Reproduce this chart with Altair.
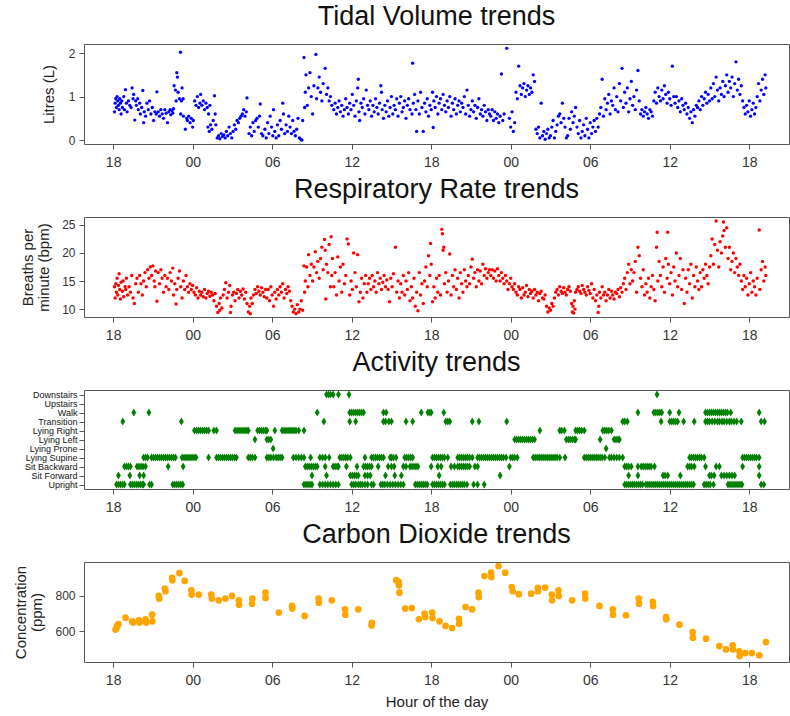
import altair as alt
import pandas as pd

# ---------------- data (hours counted from midnight of day 1) ----------------
HOUR_TICKS = [18, 24, 30, 36, 42, 48, 54, 60, 66]
X_DOMAIN = [15.8, 69.0]

tidal_volume = [
    (18.10, 0.65), (18.15, 0.85), (18.20, 0.95), (18.25, 0.75), (18.30, 1.00), (18.35, 0.90), (18.40, 0.80),
    (18.45, 0.70), (18.50, 0.95), (18.55, 0.85), (18.60, 0.60), (18.65, 0.90), (18.70, 0.75), (18.80, 1.00),
    (18.85, 0.70), (18.93, 1.16), (19.00, 0.85), (19.05, 0.65), (19.15, 0.90), (19.25, 0.80), (19.35, 0.75),
    (19.43, 1.20), (19.50, 0.95), (19.55, 1.05), (19.63, 0.46), (19.70, 0.90), (19.75, 0.80), (19.85, 0.95),
    (19.90, 0.70), (20.00, 0.85), (20.05, 0.60), (20.15, 0.75), (20.24, 1.14), (20.30, 0.40), (20.35, 0.65),
    (20.45, 0.55), (20.55, 0.85), (20.65, 0.70), (20.75, 0.90), (20.85, 0.60), (20.95, 0.75), (21.05, 0.45),
    (21.15, 0.65), (21.30, 1.11), (21.25, 0.60), (21.40, 0.65), (21.50, 0.55), (21.60, 0.70), (21.70, 0.60),
    (21.80, 0.50), (21.90, 0.70), (22.00, 0.62), (22.10, 0.40), (22.20, 0.65), (22.30, 0.70), (22.35, 0.58),
    (22.45, 0.68), (22.50, 0.62), (22.55, 0.72), (22.60, 1.25), (22.70, 1.15), (22.75, 0.90), (22.80, 1.55),
    (22.85, 1.45), (22.90, 1.10), (23.00, 0.95), (23.08, 2.02), (23.10, 0.60), (23.15, 0.90), (23.20, 1.20),
    (23.28, 0.95), (23.30, 0.55), (23.45, 0.25), (23.55, 0.50), (23.60, 0.45), (23.70, 0.55), (23.80, 0.40),
    (23.90, 0.50), (24.00, 0.30), (24.05, 0.45), (24.15, 0.90), (24.25, 0.80), (24.35, 1.00), (24.45, 0.75),
    (24.55, 0.85), (24.60, 1.05), (24.70, 0.80), (24.80, 0.90), (24.90, 0.70), (25.00, 0.85), (25.10, 0.75),
    (25.20, 0.60), (25.30, 0.80), (25.15, 0.30), (25.25, 0.20), (25.35, 0.35), (25.45, 0.25), (25.55, 0.45),
    (25.65, 1.02), (25.70, 0.60), (25.75, 0.35), (25.85, 0.05), (25.95, 0.10), (26.05, 0.03), (26.15, 0.15),
    (26.25, 0.08), (26.35, 0.12), (26.45, 0.05), (26.55, 0.20), (26.65, 0.10), (26.75, 0.30), (26.85, 0.15),
    (26.95, 0.05), (27.05, 0.20), (27.15, 0.35), (27.25, 0.25), (27.35, 0.45), (27.45, 0.40), (27.55, 0.50),
    (27.65, 0.55), (27.75, 0.60), (27.85, 0.70), (27.95, 0.55), (28.05, 0.65), (28.10, 0.97), (28.25, 0.15),
    (28.35, 0.30), (28.45, 0.10), (28.55, 0.40), (28.65, 0.20), (28.75, 0.45), (28.85, 0.50), (28.95, 0.30),
    (29.05, 0.55), (29.10, 0.83), (29.20, 0.15), (29.30, 0.10), (29.45, 0.25), (29.55, 0.05), (29.65, 0.40),
    (29.75, 0.15), (29.85, 0.55), (29.95, 0.30), (30.05, 0.10), (30.10, 0.70), (30.20, 0.20), (30.30, 0.05),
    (30.40, 0.35), (30.50, 0.10), (30.60, 0.45), (30.70, 0.25), (30.80, 0.85), (30.85, 0.60), (30.95, 0.15),
    (31.05, 0.35), (31.15, 0.20), (31.25, 0.55), (31.35, 0.30), (31.45, 0.15), (31.55, 0.45), (31.65, 0.20),
    (31.75, 0.10), (31.85, 0.25), (31.95, 0.50), (32.05, 0.05), (32.15, 0.02), (32.25, 0.00), (32.30, 0.45),
    (32.40, 1.90), (32.45, 0.75), (32.50, 1.10), (32.55, 1.50), (32.65, 0.80), (32.75, 1.20), (32.85, 1.55),
    (32.95, 1.00), (33.05, 0.60), (33.15, 1.25), (33.30, 1.97), (33.35, 0.95), (33.45, 1.20), (33.55, 1.45),
    (33.65, 1.10), (33.75, 0.90), (33.85, 1.30), (34.00, 1.65), (34.10, 1.05), (34.20, 1.20), (34.30, 0.90),
    (34.40, 1.00), (34.50, 0.80), (34.65, 0.70), (34.75, 0.85), (34.85, 0.60), (34.95, 0.75), (35.05, 0.90),
    (35.15, 0.65), (35.25, 0.80), (35.35, 0.55), (35.45, 0.70), (35.55, 0.95), (35.65, 0.75), (35.75, 0.60),
    (35.85, 0.85), (35.95, 0.70), (36.05, 1.05), (36.15, 0.80), (36.25, 0.55), (36.35, 0.90), (36.45, 1.20),
    (36.50, 1.40), (36.55, 0.65), (36.60, 0.45), (36.70, 0.85), (36.80, 0.75), (36.90, 0.95), (37.00, 0.60),
    (37.10, 1.15), (37.20, 0.80), (37.30, 0.70), (37.40, 0.90), (37.50, 0.55), (37.60, 0.80), (37.70, 0.65),
    (37.80, 0.95), (37.90, 0.75), (38.00, 0.60), (38.10, 0.85), (38.20, 1.25), (38.25, 1.10), (38.30, 0.70),
    (38.40, 0.50), (38.50, 0.80), (38.60, 0.65), (38.70, 0.90), (38.80, 0.55), (38.90, 0.75), (39.00, 1.00),
    (39.10, 0.60), (39.20, 0.80), (39.30, 0.70), (39.40, 0.95), (39.50, 0.55), (39.60, 0.85), (39.70, 1.00),
    (39.80, 0.65), (39.90, 0.75), (40.00, 0.90), (40.10, 0.50), (40.20, 0.80), (40.30, 0.95), (40.40, 0.70),
    (40.60, 1.77), (40.55, 0.60), (40.65, 0.85), (40.75, 1.05), (40.85, 0.70), (40.90, 0.20), (41.00, 0.90),
    (41.10, 0.60), (41.20, 1.10), (41.30, 0.75), (41.40, 0.20), (41.50, 0.85), (41.60, 0.65), (41.70, 0.95),
    (41.80, 0.55), (41.90, 0.80), (42.00, 0.70), (42.10, 1.10), (42.15, 0.29), (42.20, 0.90), (42.30, 0.75),
    (42.40, 1.00), (42.50, 0.60), (42.60, 0.85), (42.70, 0.95), (42.80, 0.70), (42.90, 1.05), (43.00, 0.80),
    (43.10, 0.65), (43.20, 0.90), (43.30, 0.75), (43.40, 1.00), (43.50, 0.55), (43.60, 0.85), (43.70, 0.70),
    (43.80, 0.95), (43.90, 0.60), (44.00, 0.80), (44.10, 0.90), (44.20, 0.65), (44.30, 0.85), (44.40, 0.75),
    (44.50, 1.00), (44.60, 0.60), (44.70, 1.15), (44.80, 0.80), (44.90, 0.55), (45.00, 0.70), (45.10, 0.90),
    (45.20, 0.65), (45.30, 0.80), (45.40, 0.50), (45.50, 0.75), (45.60, 0.95), (45.70, 0.60), (45.80, 0.70),
    (45.90, 0.55), (46.00, 0.80), (46.10, 0.65), (46.20, 0.45), (46.30, 0.70), (46.40, 0.60), (46.50, 0.55),
    (46.60, 0.70), (46.70, 0.45), (46.80, 0.65), (46.90, 0.50), (47.00, 0.60), (47.10, 0.40), (47.20, 0.55),
    (47.30, 1.52), (47.40, 0.45), (47.50, 0.60), (47.70, 2.11), (47.90, 0.50), (48.00, 0.30), (48.10, 0.65),
    (48.20, 0.20), (48.30, 0.40), (48.40, 1.10), (48.50, 0.95), (48.60, 1.70), (48.70, 1.25), (48.80, 1.05),
    (48.90, 1.20), (49.00, 1.30), (49.10, 1.00), (49.20, 1.15), (49.30, 1.25), (49.40, 1.05), (49.50, 1.20),
    (49.60, 1.10), (49.70, 1.50), (49.80, 1.35), (49.90, 0.25), (50.00, 0.15), (50.10, 0.30), (50.20, 0.05),
    (50.30, 0.85), (50.40, 0.10), (50.50, 0.20), (50.60, 0.02), (50.70, 0.15), (50.80, 0.25), (50.90, 0.05),
    (51.00, 0.10), (51.10, 0.30), (51.20, 0.45), (51.30, 0.05), (51.40, 0.20), (51.50, 0.35), (51.60, 0.55),
    (51.70, 0.60), (51.80, 0.40), (51.90, 0.85), (52.00, 0.50), (52.10, 0.30), (52.20, 0.05), (52.30, 0.10),
    (52.40, 0.50), (52.50, 0.25), (52.60, 0.65), (52.70, 0.40), (52.80, 0.55), (52.90, 0.75), (53.00, 0.30),
    (53.10, 0.15), (53.20, 0.45), (53.30, 0.05), (53.40, 0.20), (53.50, 0.35), (53.60, 0.10), (53.70, 0.50),
    (53.80, 0.25), (53.90, 0.05), (54.00, 0.40), (54.10, 0.15), (54.20, 0.30), (54.30, 0.45), (54.40, 0.20),
    (54.50, 0.50), (54.60, 0.30), (54.70, 0.60), (54.80, 0.75), (54.90, 1.40), (55.00, 0.55), (55.10, 0.95),
    (55.20, 0.70), (55.30, 0.85), (55.40, 1.05), (55.50, 0.60), (55.60, 0.90), (55.70, 0.80), (55.80, 1.20),
    (55.90, 0.70), (56.00, 1.00), (56.10, 0.65), (56.20, 1.30), (56.30, 0.90), (56.40, 1.65), (56.50, 0.75),
    (56.60, 1.10), (56.70, 0.85), (56.80, 1.20), (56.90, 0.65), (57.00, 0.95), (57.10, 1.35), (57.20, 0.80),
    (57.30, 1.00), (57.40, 0.70), (57.50, 1.15), (57.60, 1.60), (57.70, 0.90), (57.80, 0.60), (57.90, 0.70),
    (58.00, 0.55), (58.10, 0.65), (58.20, 0.75), (58.30, 0.60), (58.40, 0.50), (58.50, 0.70), (58.60, 0.65),
    (58.70, 0.55), (58.80, 0.90), (58.90, 1.10), (59.00, 0.85), (59.10, 1.20), (59.20, 1.00), (59.30, 0.90),
    (59.40, 1.15), (59.50, 0.95), (59.60, 1.25), (59.70, 1.05), (59.80, 0.85), (59.90, 1.10), (60.00, 0.95),
    (60.10, 0.80), (60.20, 1.70), (60.30, 1.00), (60.40, 0.85), (60.50, 1.00), (60.60, 0.75), (60.70, 0.90),
    (60.80, 0.65), (60.90, 0.95), (61.00, 0.80), (61.10, 0.70), (61.20, 0.85), (61.30, 0.60), (61.40, 0.75),
    (61.50, 0.50), (61.60, 0.65), (61.70, 0.40), (61.80, 0.70), (61.90, 0.55), (62.00, 0.80), (62.10, 0.75),
    (62.20, 0.90), (62.30, 0.70), (62.40, 1.00), (62.50, 0.80), (62.60, 0.95), (62.70, 1.10), (62.80, 0.85),
    (62.90, 1.05), (63.00, 0.90), (63.10, 1.20), (63.20, 0.95), (63.30, 1.30), (63.40, 1.00), (63.50, 1.45),
    (63.60, 1.15), (63.70, 0.90), (63.80, 1.20), (63.90, 1.05), (64.00, 1.35), (64.10, 1.00), (64.20, 1.25),
    (64.30, 1.50), (64.40, 1.10), (64.50, 1.35), (64.60, 1.20), (64.70, 1.45), (64.80, 1.00), (64.90, 1.30),
    (65.00, 1.80), (65.10, 1.15), (65.20, 1.40), (65.30, 1.05), (65.40, 1.25), (65.50, 0.90), (65.60, 0.75),
    (65.70, 0.60), (65.80, 0.80), (65.90, 0.65), (66.00, 0.90), (66.10, 0.55), (66.20, 0.70), (66.30, 0.85),
    (66.40, 0.60), (66.50, 0.75), (66.60, 1.00), (66.70, 1.30), (66.80, 0.90), (66.90, 1.15), (67.00, 1.40),
    (67.10, 1.05), (67.20, 1.50), (67.25, 1.20),
]

respiratory_rate = [
    (18.10, 14.0), (18.15, 12.0), (18.20, 14.5), (18.25, 13.0), (18.30, 15.5), (18.35, 12.5), (18.40, 14.2),
    (18.45, 16.3), (18.50, 13.5), (18.55, 11.8), (18.60, 14.8), (18.70, 13.2), (18.75, 15.0), (18.80, 12.2),
    (18.90, 14.0), (18.95, 13.5), (19.00, 15.5), (19.10, 12.5), (19.20, 14.0), (19.30, 13.0), (19.40, 16.0),
    (19.50, 12.0), (19.60, 11.0), (19.70, 14.5), (19.80, 15.5), (19.90, 13.0), (20.00, 16.0), (20.10, 14.5),
    (20.20, 12.5), (20.30, 15.0), (20.40, 16.5), (20.50, 14.0), (20.60, 17.0), (20.70, 15.5), (20.80, 17.5),
    (20.90, 16.0), (21.00, 17.7), (21.10, 15.0), (21.15, 14.0), (21.20, 16.8), (21.30, 11.4), (21.40, 16.5),
    (21.50, 14.5), (21.60, 17.0), (21.70, 15.5), (21.80, 13.0), (21.90, 16.0), (22.00, 14.0), (22.10, 15.5),
    (22.20, 13.5), (22.30, 16.5), (22.40, 15.0), (22.50, 17.3), (22.55, 12.5), (22.65, 14.5), (22.75, 10.9),
    (22.80, 13.5), (22.90, 15.5), (23.00, 16.8), (23.10, 14.0), (23.20, 12.0), (23.30, 15.0), (23.40, 13.5),
    (23.50, 16.0), (23.60, 14.0), (23.70, 13.0), (23.80, 14.5), (23.90, 13.5), (24.00, 14.2), (24.10, 13.0),
    (24.20, 12.5), (24.30, 13.8), (24.40, 12.0), (24.50, 13.2), (24.60, 12.5), (24.70, 13.0), (24.80, 12.2),
    (24.90, 13.5), (25.00, 12.0), (25.10, 12.8), (25.20, 13.2), (25.30, 12.3), (25.40, 13.0), (25.50, 12.5),
    (25.60, 11.5), (25.70, 12.8), (25.80, 10.5), (25.90, 9.4), (26.00, 11.0), (26.05, 9.8), (26.10, 12.0),
    (26.20, 10.2), (26.30, 12.5), (26.40, 13.5), (26.50, 14.7), (26.60, 12.0), (26.70, 13.0), (26.80, 14.2),
    (26.85, 9.4), (26.90, 10.5), (27.00, 12.5), (27.10, 13.0), (27.20, 11.5), (27.30, 12.8), (27.40, 13.5),
    (27.50, 12.0), (27.60, 13.2), (27.70, 12.5), (27.80, 13.6), (27.90, 11.8), (28.00, 13.0), (28.10, 11.0),
    (28.20, 9.5), (28.30, 10.5), (28.35, 9.2), (28.40, 12.0), (28.50, 11.0), (28.60, 12.5), (28.70, 13.5),
    (28.80, 12.8), (28.90, 14.0), (29.00, 13.2), (29.10, 12.5), (29.20, 13.8), (29.30, 13.0), (29.40, 12.2),
    (29.50, 13.5), (29.60, 12.0), (29.70, 13.5), (29.80, 11.5), (29.90, 14.0), (30.00, 12.5), (30.10, 10.5),
    (30.20, 13.0), (30.30, 11.8), (30.40, 13.5), (30.50, 12.5), (30.60, 14.0), (30.70, 13.0), (30.80, 14.5),
    (30.90, 12.0), (31.00, 13.5), (31.10, 12.8), (31.20, 14.0), (31.30, 13.2), (31.40, 11.5), (31.50, 10.5),
    (31.60, 9.5), (31.70, 10.0), (31.80, 9.2), (31.90, 10.8), (32.00, 9.5), (32.10, 10.0), (32.20, 11.5),
    (32.30, 9.8), (32.40, 17.7), (32.45, 13.0), (32.50, 15.0), (32.60, 17.5), (32.70, 14.0), (32.75, 19.7),
    (32.85, 16.0), (32.95, 18.0), (33.05, 15.0), (33.15, 17.5), (33.25, 20.2), (33.35, 16.5), (33.45, 18.5),
    (33.55, 15.5), (33.65, 19.0), (33.75, 21.0), (33.85, 17.0), (33.95, 22.4), (34.00, 20.5), (34.05, 11.8),
    (34.10, 18.0), (34.20, 16.5), (34.30, 21.5), (34.40, 14.0), (34.45, 22.9), (34.50, 16.0), (34.55, 19.0),
    (34.65, 14.0), (34.75, 16.5), (34.85, 12.5), (34.95, 19.3), (35.05, 15.0), (35.15, 17.5), (35.25, 13.0),
    (35.35, 18.0), (35.45, 14.5), (35.55, 16.0), (35.65, 22.5), (35.75, 21.6), (35.85, 12.5), (35.95, 15.0),
    (36.05, 13.5), (36.15, 20.0), (36.25, 16.5), (36.35, 14.0), (36.45, 19.7), (36.55, 11.3), (36.65, 13.0),
    (36.75, 15.5), (36.85, 12.0), (36.95, 14.5), (37.05, 16.0), (37.15, 13.0), (37.25, 14.5), (37.35, 15.5),
    (37.45, 13.5), (37.55, 16.0), (37.65, 14.0), (37.75, 15.0), (37.85, 13.0), (37.95, 16.5), (38.05, 14.5),
    (38.15, 15.5), (38.25, 13.5), (38.35, 14.8), (38.45, 16.0), (38.55, 14.0), (38.65, 15.2), (38.75, 13.5),
    (38.85, 11.3), (38.95, 15.5), (39.05, 14.0), (39.15, 16.3), (39.30, 21.0), (39.40, 13.0), (39.50, 15.0),
    (39.60, 12.0), (39.70, 14.5), (39.80, 13.0), (39.90, 16.0), (40.00, 12.5), (40.10, 15.0), (40.20, 13.5),
    (40.30, 16.5), (40.40, 11.5), (40.50, 14.0), (40.60, 12.0), (40.70, 15.5), (40.80, 10.5), (40.90, 13.0),
    (41.00, 9.7), (41.10, 16.5), (41.20, 12.5), (41.30, 14.5), (41.40, 11.0), (41.50, 15.0), (41.60, 17.5),
    (41.70, 14.0), (41.80, 19.5), (41.90, 16.0), (41.95, 21.7), (42.00, 18.0), (42.10, 11.3), (42.20, 14.0),
    (42.30, 12.0), (42.40, 15.5), (42.50, 13.0), (42.60, 16.0), (42.70, 12.5), (42.80, 24.2), (42.85, 23.4),
    (42.90, 20.5), (42.95, 21.0), (43.00, 14.5), (43.10, 16.5), (43.20, 13.0), (43.30, 15.0), (43.40, 19.8),
    (43.50, 12.5), (43.60, 16.0), (43.70, 14.0), (43.80, 17.0), (43.90, 13.5), (44.00, 15.5), (44.10, 12.0),
    (44.20, 16.5), (44.30, 14.5), (44.40, 13.0), (44.50, 17.0), (44.60, 15.0), (44.70, 14.0), (44.80, 16.0),
    (44.90, 14.5), (45.00, 17.5), (45.10, 18.9), (45.20, 15.5), (45.30, 16.5), (45.40, 14.0), (45.50, 17.0),
    (45.60, 15.0), (45.70, 16.8), (45.80, 14.5), (45.90, 18.0), (46.00, 16.0), (46.10, 17.2), (46.20, 15.5),
    (46.30, 16.5), (46.40, 17.0), (46.50, 16.0), (46.60, 17.0), (46.70, 15.5), (46.80, 16.8), (46.90, 15.0),
    (47.00, 17.2), (47.10, 16.0), (47.20, 15.0), (47.30, 16.5), (47.40, 15.5), (47.50, 14.5), (47.60, 16.0),
    (47.70, 15.0), (47.80, 13.5), (47.90, 14.5), (48.00, 15.5), (48.10, 14.0), (48.20, 13.5), (48.30, 14.5),
    (48.40, 13.0), (48.50, 12.5), (48.60, 14.0), (48.70, 13.5), (48.80, 12.0), (48.90, 13.8), (49.00, 12.5),
    (49.10, 13.0), (49.20, 14.2), (49.30, 12.2), (49.40, 13.5), (49.50, 12.8), (49.60, 13.2), (49.70, 12.0),
    (49.80, 13.5), (49.90, 12.5), (50.00, 13.0), (50.10, 11.5), (50.20, 12.8), (50.30, 13.2), (50.40, 12.0),
    (50.50, 11.8), (50.60, 12.5), (50.70, 10.5), (50.80, 9.5), (50.90, 10.2), (51.00, 9.8), (51.10, 11.0),
    (51.20, 10.5), (51.30, 12.0), (51.40, 13.0), (51.50, 13.5), (51.60, 12.5), (51.70, 14.0), (51.80, 13.2),
    (51.90, 12.8), (52.00, 13.8), (52.10, 13.0), (52.20, 12.5), (52.30, 13.5), (52.40, 14.0), (52.50, 13.2),
    (52.60, 11.0), (52.65, 9.5), (52.70, 10.5), (52.75, 9.3), (52.80, 11.5), (52.85, 10.0), (52.90, 13.0),
    (53.00, 13.5), (53.10, 14.0), (53.20, 13.2), (53.30, 12.8), (53.40, 14.2), (53.50, 13.5), (53.60, 13.0),
    (53.70, 12.5), (53.80, 14.0), (53.90, 13.3), (54.00, 12.8), (54.10, 14.5), (54.20, 12.0), (54.30, 13.5),
    (54.40, 11.5), (54.50, 12.5), (54.60, 9.4), (54.65, 10.5), (54.70, 13.0), (54.80, 12.0), (54.90, 14.0),
    (55.00, 12.5), (55.10, 13.0), (55.20, 11.5), (55.30, 12.5), (55.40, 13.5), (55.50, 12.0), (55.60, 13.2),
    (55.70, 12.5), (55.80, 11.8), (55.90, 13.0), (56.00, 12.8), (56.10, 13.5), (56.20, 12.2), (56.30, 13.8),
    (56.40, 13.0), (56.50, 14.5), (56.60, 15.5), (56.70, 13.5), (56.80, 16.5), (56.90, 18.0), (57.00, 14.5),
    (57.10, 17.0), (57.20, 15.0), (57.30, 16.5), (57.40, 18.5), (57.50, 13.0), (57.60, 21.0), (57.70, 19.5),
    (57.80, 15.5), (57.90, 14.0), (58.00, 17.0), (58.10, 12.5), (58.20, 14.5), (58.30, 13.0), (58.40, 15.5),
    (58.50, 12.0), (58.60, 14.0), (58.70, 16.0), (58.80, 13.5), (58.90, 11.5), (59.00, 21.0), (59.05, 23.7),
    (59.10, 15.0), (59.20, 18.5), (59.30, 16.0), (59.40, 14.0), (59.50, 17.5), (59.60, 13.0), (59.70, 19.0),
    (59.80, 15.5), (59.85, 23.7), (59.90, 18.0), (60.00, 14.5), (60.10, 16.5), (60.20, 12.5), (60.30, 17.5),
    (60.40, 15.0), (60.50, 20.0), (60.60, 14.0), (60.70, 16.0), (60.80, 19.0), (60.90, 13.5), (61.00, 17.0),
    (61.10, 11.0), (61.20, 15.5), (61.30, 13.0), (61.40, 17.0), (61.50, 14.5), (61.60, 18.0), (61.70, 12.0),
    (61.80, 16.0), (61.90, 14.0), (62.00, 17.5), (62.10, 15.0), (62.20, 13.5), (62.30, 16.5), (62.40, 14.0),
    (62.50, 17.0), (62.60, 15.5), (62.70, 18.0), (62.80, 16.0), (62.90, 14.5), (63.00, 17.5), (63.10, 19.5),
    (63.20, 22.5), (63.30, 18.0), (63.40, 21.5), (63.50, 25.7), (63.60, 20.5), (63.70, 17.5), (63.80, 22.0),
    (63.90, 20.0), (64.00, 23.0), (64.05, 25.5), (64.10, 24.0), (64.20, 21.0), (64.30, 24.5), (64.40, 19.0),
    (64.50, 21.0), (64.60, 17.0), (64.70, 18.5), (64.80, 20.0), (64.90, 16.5), (65.00, 19.0), (65.10, 17.5),
    (65.20, 16.0), (65.30, 18.0), (65.40, 15.0), (65.50, 13.5), (65.60, 16.0), (65.70, 14.0), (65.80, 15.5),
    (65.90, 12.5), (66.00, 14.5), (66.10, 16.5), (66.20, 13.0), (66.30, 15.0), (66.40, 14.0), (66.50, 12.5),
    (66.60, 15.5), (66.75, 24.1), (66.80, 13.5), (66.90, 17.0), (67.00, 18.5), (67.10, 15.0), (67.20, 17.5),
    (67.25, 16.0),
]

ACTIVITIES = ["Downstairs", "Upstairs", "Walk", "Transition", "Lying Right", "Lying Left",
              "Lying Prone", "Lying Supine", "Sit Backward", "Sit Forward", "Upright"]

activity_hours = {
    "Downstairs": [34.1, 34.25, 34.4, 34.6, 35.0, 35.8, 59.04],
    "Upstairs": [],
    "Walk": [19.56, 20.7, 33.4, 35.85, 36.0, 36.15, 36.3, 36.45, 36.6, 36.75, 36.9, 38.4, 38.6, 41.25,
             41.75, 41.9, 42.0, 42.95, 57.6, 58.8, 58.95, 59.1, 59.25, 59.4, 60.0, 60.7, 62.7, 62.85, 63.0,
             63.15, 63.3, 63.45, 63.6, 63.75, 63.9, 64.05, 64.2, 64.35, 64.6, 66.75],
    "Transition": [18.73, 23.15, 33.9, 35.85, 36.3, 38.4, 38.55, 38.8, 39.0, 40.1, 40.6, 43.1, 43.25, 43.4,
                   45.1, 45.6, 47.7, 56.45, 56.6, 56.8, 59.35, 60.0, 60.15, 60.3, 60.45, 60.6, 61.05, 61.85,
                   62.7, 62.85, 63.0, 63.2, 63.4, 63.6, 63.75, 63.95, 64.1, 64.3, 64.5, 64.65, 64.85, 65.05,
                   65.4, 66.9, 67.15],
    "Lying Right": [24.13, 24.3, 24.45, 24.6, 24.75, 24.9, 25.05, 25.2, 25.6, 25.8, 27.2, 27.35, 27.5, 27.65,
                    27.8, 27.95, 28.1, 28.2, 28.9, 29.05, 29.2, 29.35, 29.5, 29.6, 30.2, 30.75, 30.9, 31.05,
                    31.2, 31.35, 31.5, 31.65, 31.8, 32.0, 32.4, 50.2, 51.7, 51.85, 52.05, 52.9, 53.05, 53.2,
                    53.35, 53.55, 54.95, 55.1, 55.25, 55.4, 55.6],
    "Lying Left": [28.7, 29.6, 29.75, 29.9, 48.3, 48.45, 48.6, 48.75, 48.9, 49.05, 49.2, 49.35, 49.5, 49.65,
                   49.8, 52.2, 52.35, 52.5, 52.65, 52.8, 52.9, 54.75, 55.8, 55.95, 56.1, 56.2],
    "Lying Prone": [30.07, 55.2],
    "Lying Supine": [20.3, 20.45, 20.6, 20.9, 21.05, 21.2, 21.35, 21.5, 21.65, 21.8, 21.95, 22.1, 22.25, 22.4,
                     22.55, 22.7, 23.2, 23.35, 23.5, 23.65, 23.8, 23.95, 24.1, 24.25, 25.2, 25.8, 25.95, 26.1,
                     26.25, 26.4, 26.55, 26.7, 26.85, 27.0, 27.15, 27.3, 28.2, 28.35, 28.5, 28.7, 29.6, 29.75,
                     29.9, 30.1, 30.3, 30.45, 30.6, 30.75, 31.6, 31.8, 32.0, 32.2, 32.4, 32.9, 33.6, 33.8, 34.0,
                     34.3, 35.1, 35.25, 35.4, 35.55, 35.7, 35.9, 37.0, 37.5, 37.65, 37.8, 37.95, 38.1, 38.25,
                     38.4, 38.9, 39.0, 39.15, 39.35, 40.0, 40.15, 40.3, 40.45, 40.6, 42.1, 42.25, 42.4, 42.55,
                     42.7, 42.85, 43.0, 43.25, 44.0, 44.15, 44.3, 44.45, 44.6, 44.75, 44.9, 45.1, 45.5, 45.65,
                     45.8, 45.95, 46.1, 46.25, 46.4, 46.55, 46.7, 46.85, 47.0, 47.15, 47.3, 47.45, 47.65, 48.0,
                     48.15, 48.3, 48.5, 49.7, 49.85, 50.0, 50.15, 50.3, 50.45, 50.6, 50.75, 50.9, 51.05, 51.2,
                     51.35, 51.5, 51.7, 52.1, 53.55, 53.7, 53.85, 54.0, 54.15, 54.3, 54.45, 54.6, 54.75, 54.9,
                     55.1, 55.45, 55.6, 55.8, 56.0, 56.2, 56.45, 61.5, 61.65, 61.8, 61.95, 62.1, 62.25, 62.4,
                     62.6, 65.5, 65.65, 65.8, 65.95, 66.1, 66.25, 66.4, 66.55, 66.75],
    "Sit Backward": [18.85, 19.0, 19.15, 19.3, 19.8, 19.95, 20.1, 20.25, 20.44, 22.15, 23.28, 32.5, 32.65,
                     32.8, 32.95, 33.1, 33.25, 33.4, 34.0, 34.6, 34.75, 34.9, 35.0, 35.6, 36.4, 36.9, 37.05,
                     37.2, 37.35, 37.5, 38.0, 38.75, 39.0, 39.2, 39.9, 40.1, 40.4, 40.55, 40.7, 40.85, 41.0,
                     42.0, 42.5, 42.75, 43.5, 43.75, 44.0, 44.15, 44.3, 44.45, 44.6, 44.75, 44.9, 45.3, 45.5,
                     47.9, 56.6, 56.75, 56.9, 57.1, 57.6, 57.85, 58.0, 58.15, 58.3, 58.45, 58.6, 58.85, 61.35,
                     61.5, 61.65, 61.85, 62.7, 63.5, 63.75, 65.5, 66.75],
    "Sit Forward": [18.4, 19.26, 20.0, 20.3, 33.0, 34.1, 35.9, 36.05, 36.2, 36.35, 36.5, 37.0, 37.2, 37.4,
                    38.55, 39.25, 39.75, 42.6, 47.2, 56.9, 57.6, 59.5, 59.65, 59.85, 60.8, 63.0, 63.15, 63.35,
                    63.9, 64.1, 64.3, 64.5, 64.7, 64.9, 66.75],
    "Upright": [18.25, 18.4, 18.55, 18.7, 18.85, 19.3, 19.45, 19.6, 19.75, 19.9, 20.05, 20.2, 20.3, 20.75,
                20.9, 22.5, 22.65, 22.8, 22.95, 23.1, 23.25, 32.4, 32.55, 32.7, 32.85, 33.0, 33.6, 33.8, 34.0,
                34.2, 34.4, 34.6, 34.8, 35.0, 36.0, 36.15, 36.3, 36.5, 36.65, 36.8, 37.0, 37.2, 37.5, 37.65,
                38.2, 38.35, 38.5, 38.7, 38.9, 39.1, 39.3, 39.5, 39.7, 39.9, 40.8, 40.95, 41.1, 41.25, 41.4,
                41.55, 41.7, 42.1, 42.25, 42.4, 42.55, 42.7, 42.85, 43.0, 43.45, 43.6, 43.75, 43.9, 44.05,
                44.2, 44.35, 44.5, 44.7, 45.2, 45.5, 46.0, 56.6, 56.75, 56.9, 57.05, 57.2, 57.35, 57.5,
                57.65, 57.8, 57.95, 58.2, 58.35, 58.5, 58.65, 58.8, 58.95, 59.1, 59.25, 59.4, 59.55, 59.7,
                59.85, 60.0, 60.15, 60.3, 60.45, 60.6, 60.75, 60.9, 61.05, 61.2, 61.35, 61.5, 61.65, 61.8,
                62.6, 62.75, 62.9, 63.05, 63.3, 64.4, 64.55, 64.7, 64.85, 65.0, 65.15, 65.3, 65.45, 66.9,
                67.1],
}

carbon_dioxide = [
    (18.18, 608), (18.25, 617), (18.30, 629), (18.40, 640), (18.93, 676), (19.43, 655), (19.50, 648),
    (19.94, 661), (20.00, 648), (20.44, 667), (20.50, 648), (20.94, 693), (20.96, 655), (21.44, 800),
    (21.48, 785), (21.90, 842), (21.95, 827), (22.45, 903), (22.47, 890), (23.00, 931), (23.40, 886),
    (23.90, 832), (23.92, 808), (24.46, 808), (25.40, 808), (25.45, 785), (25.97, 775), (26.47, 785),
    (26.97, 800), (27.48, 775), (27.50, 750), (28.48, 756), (28.50, 785), (29.49, 819), (29.50, 789),
    (30.50, 705), (31.50, 743), (31.52, 728), (32.45, 686), (33.50, 785), (33.52, 762), (34.50, 775),
    (35.50, 724), (35.52, 693), (36.50, 724), (37.50, 632), (37.52, 646), (39.36, 890), (39.54, 880),
    (39.56, 861), (39.60, 819), (40.04, 728), (40.54, 731), (41.07, 667), (41.50, 699), (41.55, 680),
    (42.08, 705), (42.10, 674), (42.63, 655), (43.08, 629), (43.58, 617), (44.09, 670), (44.11, 642),
    (44.59, 737), (45.09, 724), (45.57, 819), (45.59, 794), (46.02, 914), (46.52, 933), (46.54, 909),
    (47.08, 971), (47.58, 933), (48.08, 851), (48.15, 827), (48.61, 810), (49.54, 813), (50.04, 846),
    (50.06, 827), (50.60, 848), (51.10, 808), (51.12, 775), (51.60, 832), (51.62, 800), (52.63, 775),
    (53.61, 813), (53.63, 785), (54.70, 743), (55.70, 724), (55.72, 693), (56.70, 690), (57.66, 785),
    (57.68, 756), (58.72, 766), (58.74, 743), (59.72, 680), (59.74, 667), (60.73, 636), (61.73, 594),
    (61.75, 562), (62.74, 556), (63.74, 514), (64.25, 495), (64.75, 518), (64.77, 495), (65.25, 484),
    (65.27, 457), (65.70, 474), (66.20, 474), (66.76, 461), (67.26, 537),
]

# ---------------- tables ----------------
tv_df = pd.DataFrame(tidal_volume, columns=["hour", "litres"])
rr_df = pd.DataFrame(respiratory_rate, columns=["hour", "bpm"])
co2_df = pd.DataFrame(carbon_dioxide, columns=["hour", "ppm"])
act_df = pd.DataFrame(
    [{"hour": h, "activity": a} for a, hs in activity_hours.items() for h in hs]
)

FONT = "Liberation Sans"
PLOT_W = 705
LABEL_EXPR = ("(datum.value % 24) < 10 ? '0' + (datum.value % 24) : '' + (datum.value % 24)")


def x_enc(title=None):
    return alt.X(
        "hour:Q",
        scale=alt.Scale(domain=X_DOMAIN, nice=False, zero=False),
        axis=alt.Axis(values=HOUR_TICKS, labelExpr=LABEL_EXPR, labelFontSize=14,
                      labelPadding=6, titlePadding=7, titleFontSize=15),
        title=title,
    )


def panel_title(text):
    return alt.TitleParams(text, fontSize=27, font=FONT, fontWeight="normal", color="#111",
                           anchor="middle", baseline="alphabetic", offset=-8)


tv = alt.Chart(tv_df, title=panel_title("Tidal Volume trends")).mark_point(
    filled=True, opacity=1, size=11, color="#0000ff"
).encode(
    x=x_enc(),
    y=alt.Y("litres:Q", scale=alt.Scale(domain=[-0.09, 2.21], nice=False, zero=False),
            axis=alt.Axis(values=[0, 1, 2], titlePadding=12), title="Litres (L)"),
).properties(width=PLOT_W, height=100)

rr = alt.Chart(rr_df, title=panel_title("Respiratory Rate trends")).mark_point(
    filled=True, opacity=1, size=12, color="#ff0000"
).encode(
    x=x_enc(),
    y=alt.Y("bpm:Q", scale=alt.Scale(domain=[8.6, 26.4], nice=False, zero=False),
            axis=alt.Axis(values=[10, 15, 20, 25], titlePadding=10),
            title=["Breaths per", "minute (bpm)"]),
).properties(width=PLOT_W, height=100)

act = alt.Chart(act_df, title=panel_title("Activity trends")).mark_point(
    filled=True, opacity=1, size=64, color="#008000", shape="M0,-1L0.6,0L0,1L-0.6,0Z"
).encode(
    x=x_enc(),
    y=alt.Y("activity:N", scale=alt.Scale(domain=ACTIVITIES, padding=0.5),
            axis=alt.Axis(labelFontSize=9, labelColor="#111", labelPadding=2, tickSize=5),
            title=None),
).properties(width=PLOT_W, height=99)

co2 = alt.Chart(co2_df, title=panel_title("Carbon Dioxide trends")).mark_point(
    filled=True, opacity=1, size=45, color="#ffa500"
).encode(
    x=x_enc("Hour of the day"),
    y=alt.Y("ppm:Q", scale=alt.Scale(domain=[423, 994], nice=False, zero=False),
            axis=alt.Axis(values=[600, 800], titlePadding=10),
            title=["Concentration", "(ppm)"]),
).properties(width=PLOT_W, height=100)

chart = alt.vconcat(tv, rr, act, co2, spacing=73, bounds="flush").properties(
    padding={"left": 13, "top": 2, "right": 0, "bottom": 2}
).configure_view(
    stroke="#555", strokeWidth=1
).configure_axis(
    grid=False, domain=False, tickColor="#555", tickSize=5, labelFont=FONT, labelFontSize=12,
    labelColor="#333", titleFont=FONT, titleFontSize=15, titleFontWeight="normal", titleColor="#222",
    titleLineHeight=16, labelPadding=4
)

chart.save("out.html", embed_options={"renderer": "svg", "actions": False})
